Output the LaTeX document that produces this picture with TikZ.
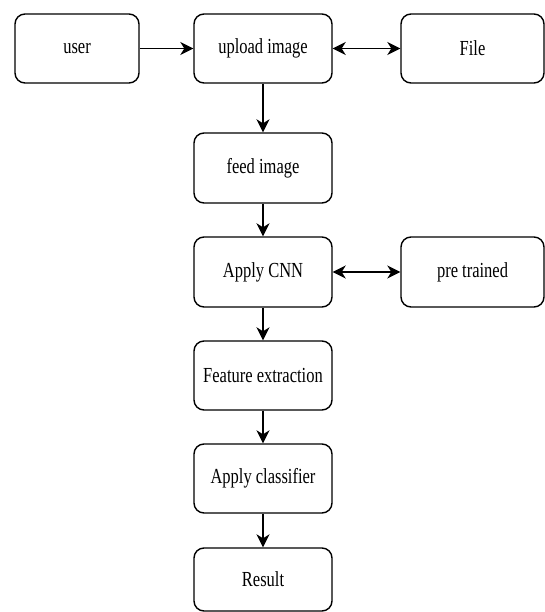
\documentclass[tikz,border=0pt]{standalone}
\usepackage{fontspec}
\setmainfont{Liberation Serif}
\usetikzlibrary{arrows.meta}
\newcommand{\talltext}[1]{\scalebox{1}[1.3]{#1}}
\tikzset{
  flowbox/.style={draw=black, line width=1.4pt, rounded corners=10pt, fill=white,
    minimum height=69pt, inner sep=0pt,
    font=\fontsize{16.5}{20}\selectfont},
  tip/.tip={Stealth[length=13pt,width=13pt,inset=4pt]},
  link/.style={line width=1.5pt, -tip},
  duallink/.style={line width=1.5pt, tip-tip}
}
\begin{document}
\begin{tikzpicture}[x=1pt,y=-1pt]
  \useasboundingbox (0,0) rectangle (545,612);
  % top row
  \node[flowbox, minimum width=124pt] (user)   at (77,48.5)   {\talltext{user}};
  \node[flowbox, minimum width=138pt] (upload) at (263,48.5)  {\talltext{upload image}};
  \node[flowbox, minimum width=143pt] (file)   at (472.5,48.5){\talltext{File}};
  % main column
  \node[flowbox, minimum width=138pt, minimum height=70pt] (feed) at (263,168) {\talltext{feed image}};
  \node[flowbox, minimum width=138pt, minimum height=70pt] (cnn)  at (263,272) {\talltext{Apply CNN}};
  \node[flowbox, minimum width=143pt, minimum height=70pt] (pre)  at (472.5,272) {\talltext{pre trained}};
  \node[flowbox, minimum width=138pt] (feat)  at (263,375.5) {\talltext{Feature extraction}};
  \node[flowbox, minimum width=138pt] (clf)   at (263,478.5) {\talltext{Apply classifier}};
  \node[flowbox, minimum width=138pt, minimum height=63pt] (res) at (263,579.5) {\talltext{Result}};
  % connectors
  \draw[link] (user) -- (upload);
  \draw[duallink] (upload) -- (file);
  \draw[link] (upload) -- (feed);
  \draw[link] (feed) -- (cnn);
  \draw[duallink] (cnn) -- (pre);
  \draw[link] (cnn) -- (feat);
  \draw[link] (feat) -- (clf);
  \draw[link] (clf) -- (res);
\end{tikzpicture}
\end{document}
